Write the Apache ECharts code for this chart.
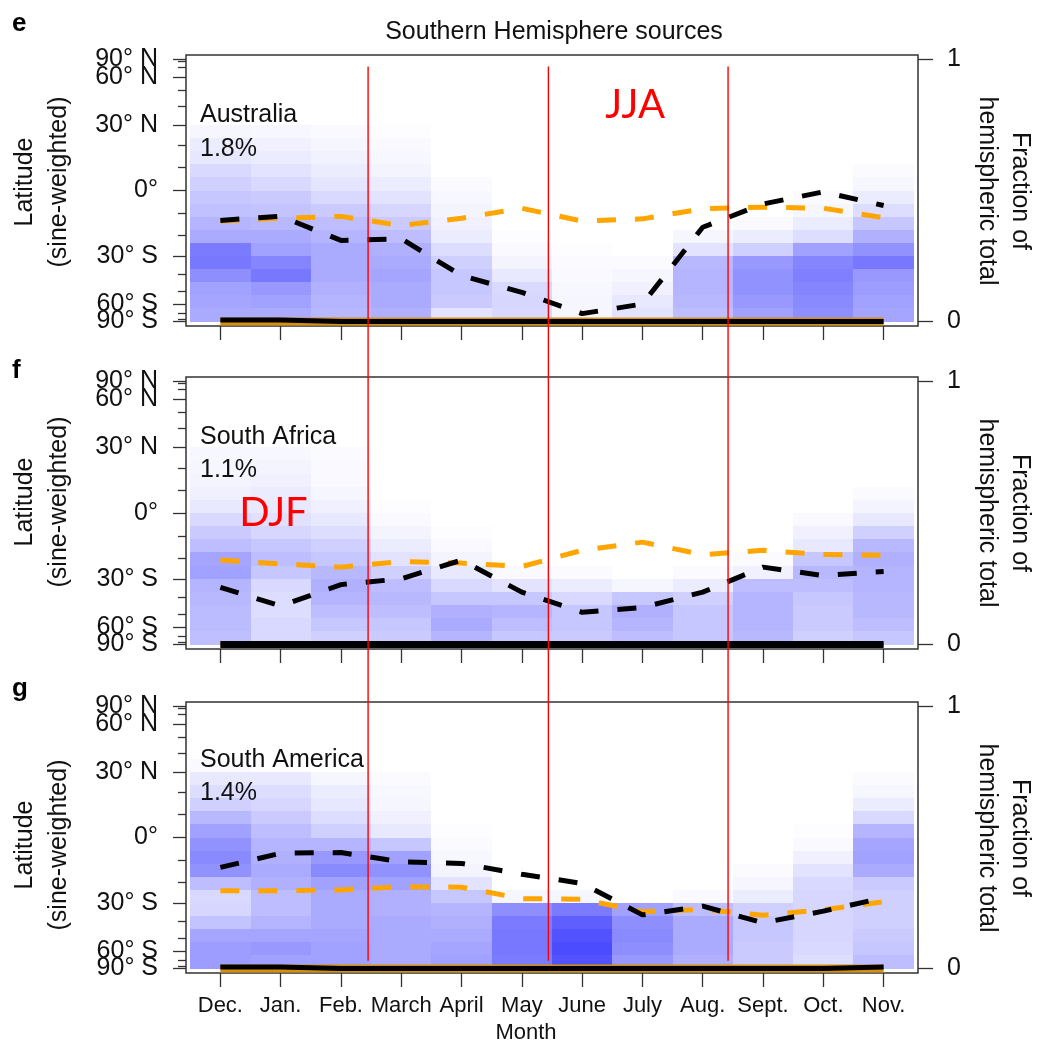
<!DOCTYPE html>
<html>
<head>
<meta charset="utf-8">
<script src="https://cdn.jsdelivr.net/npm/echarts@6/dist/echarts.min.js"></script>
<style>
  html, body { margin: 0; padding: 0; background: #ffffff; }
  #chart { width: 1038px; height: 1044px; }
</style>
</head>
<body>
<div id="chart"></div>
<script>
// ---- data -----------------------------------------------------------------
const months = ['Dec.', 'Jan.', 'Feb.', 'March', 'April', 'May', 'June', 'July', 'Aug.', 'Sept.', 'Oct.', 'Nov.'];

// latitude ticks (degrees); the axis itself is sine-weighted
const latTickDeg = [-90, -80, -70, -60, -50, -40, -30, -20, -10, 0, 10, 20, 30, 40, 50, 60, 70, 80, 90];
const latLabelDeg = [-90, -60, -30, 0, 30, 60, 90];
const latPoleDeg = [-90, 90];
const fracTicks = [0, 1];

// density bins, edges in sin(latitude), listed from 90° N down to 90° S
const binEdges = [1, 0.9, 0.8, 0.7, 0.6, 0.5, 0.4, 0.3, 0.2, 0.1, 0, -0.1, -0.2, -0.3, -0.4, -0.5, -0.6, -0.7, -0.8, -0.9, -1];

const regionNames = ['Australia', 'South Africa', 'South America'];
const regionShares = ['1.8%', '1.1%', '1.4%'];
const panelLetters = ['e', 'f', 'g'];

// Australia
const ausMeanLat = [-13.2, -11.3, -22.4, -21.6, -40.5, -51, -70, -60, -16.3, -5.9, -0.6, -6.6];
const ausRefLat  = [-13.5, -12.2, -11.4, -15.5, -12.2, -7.8, -13.5, -12.5, -8, -7.3, -7.8, -12];
const ausFracMain = [0.006, 0.006, 0, 0, 0, 0, 0, 0, 0, 0, 0, 0];
const ausFracRef  = [0, 0, 0, 0, 0, 0, 0, 0, 0, 0, 0, 0];
const ausDensity = [
  [0,0,0,0,0,5,10,13,20,25,30,33,40,45,70,72,60,50,48,45],
  [0,0,0,0,0,4,8,10,15,20,28,32,38,45,50,65,72,55,50,45],
  [0,0,0,0,0,3,5,7,10,14,20,28,35,40,45,45,45,42,40,38],
  [0,0,0,0,0,1,3,4,6,10,15,22,28,35,42,45,48,45,45,42],
  [0,0,0,0,0,0,0,0,0,2,4,6,8,10,18,25,30,30,28,15],
  [0,0,0,0,0,0,0,0,0,0,0,0,0,1,3,6,12,20,22,20],
  [0,0,0,0,0,0,0,0,0,0,0,0,0,0,1,2,3,4,5,5],
  [0,0,0,0,0,0,0,0,0,0,0,0,0,0,0,2,5,8,12,15],
  [0,0,0,0,0,0,0,0,0,0,0,0,0,5,15,38,40,40,38,35],
  [0,0,0,0,0,0,0,0,0,0,0,0,3,10,25,55,58,58,55,50],
  [0,0,0,0,0,0,0,0,0,0,2,5,10,18,50,65,68,65,62,60],
  [0,0,0,0,0,0,0,0,2,5,10,18,30,42,58,72,55,52,50,48]
];

// South Africa
const safMeanLat = [-34.4, -45, -33, -30, -21, -37, -49, -45.9, -37, -24.3, -28.4, -26.4];
const safRefLat  = [-20.9, -22.8, -24.3, -21.6, -22.4, -24, -16.5, -12.8, -18.5, -16.5, -18.4, -18.8];
const safFracMain = [0, 0, 0, 0, 0, 0, 0, 0, 0, 0, 0, 0];
const safFracRef  = [0, 0, 0, 0, 0, 0, 0, 0, 0, 0, 0, 0];
const safDensity = [
  [0,0,0,0,0,4,5,6,8,12,20,28,35,48,50,40,38,36,36,34],
  [0,0,0,0,0,4,6,8,10,12,16,22,30,35,30,20,18,18,20,20],
  [0,0,0,0,0,2,3,3,5,8,12,18,25,30,38,42,40,35,30,25],
  [0,0,0,0,0,0,0,0,0,1,3,6,10,15,25,35,38,35,30,28],
  [0,0,0,0,0,0,0,0,0,0,0,1,3,6,12,20,30,42,45,40],
  [0,0,0,0,0,0,0,0,0,0,0,0,0,0,3,15,30,40,35,30],
  [0,0,0,0,0,0,0,0,0,0,0,0,0,0,2,10,20,30,30,28],
  [0,0,0,0,0,0,0,0,0,0,0,0,0,0,0,5,30,42,40,35],
  [0,0,0,0,0,0,0,0,0,0,0,0,0,0,2,10,25,30,30,30],
  [0,0,0,0,0,0,0,0,0,0,0,0,0,2,8,35,40,40,40,38],
  [0,0,0,0,0,0,0,0,0,0,3,8,12,30,38,35,30,28,28,25],
  [0,0,0,0,0,0,0,0,2,6,12,25,38,42,40,40,38,38,35,30]
];

// South America
const samMeanLat = [-13.2, -6.9, -6.6, -10.7, -11.4, -16.3, -20.5, -36.2, -31.6, -40.6, -34.2, -27.4];
const samRefLat  = [-24, -24, -23.6, -22, -22.3, -27.8, -28.1, -34.5, -33.2, -36.4, -33.5, -29.4];
const samFracMain = [0.006, 0.006, 0, 0, 0, 0, 0, 0, 0, 0, 0, 0.006];
const samFracRef  = [0, 0, 0, 0, 0, 0, 0, 0, 0, 0, 0, 0];
const samDensity = [
  [0,0,0,0,3,12,18,25,38,50,58,62,58,35,20,22,32,48,52,52],
  [0,0,0,0,0,12,18,22,28,35,40,42,45,42,35,35,40,48,55,50],
  [0,0,0,0,0,5,10,13,18,25,40,55,62,50,45,45,45,48,50,50],
  [0,0,0,0,0,2,4,5,8,12,30,50,58,50,42,42,45,45,45,45],
  [0,0,0,0,0,0,0,0,0,1,2,4,6,15,30,40,42,45,48,50],
  [0,0,0,0,0,0,0,0,0,0,0,0,0,0,5,60,70,72,72,70],
  [0,0,0,0,0,0,0,0,0,0,0,0,0,0,5,70,85,92,95,92],
  [0,0,0,0,0,0,0,0,0,0,0,0,0,0,0,50,60,62,60,55],
  [0,0,0,0,0,0,0,0,0,0,0,0,0,0,3,35,45,45,45,42],
  [0,0,0,0,0,0,0,0,0,0,0,0,2,5,10,25,30,30,28,28],
  [0,0,0,0,0,0,0,0,0,1,3,8,15,20,22,22,22,22,20,18],
  [0,0,0,0,0,2,5,10,20,40,48,50,45,28,25,25,25,28,30,35]
];

// season boundaries (in month-axis units) and their labels
const seasonBounds = [2.45, 5.44, 8.42];
const seasonLineLat = [71, -70];          // top (first panel) / bottom (last panel)
const seasonTags = [
  { text: 'JJA', panel: 0, month: 6.88, lat: 40.5 },
  { text: 'DJF', panel: 1, month: 0.88, lat: 0 }
];

// ---- layout ---------------------------------------------------------------
const FONT = '"Liberation Sans", Arial, Helvetica, sans-serif';
const panelLayout = [
  { top: 55,  height: 271, latTitleY: 182, fracTitleY: 191, mainWidth: 5, refWidth: 8 },
  { top: 377, height: 272, latTitleY: 502, fracTitleY: 513, mainWidth: 7, refWidth: 5 },
  { top: 702, height: 271, latTitleY: 845, fracTitleY: 838, mainWidth: 5, refWidth: 8 }
];
const GRID_LEFT = 186, GRID_RIGHT = 918;
const Y_EXT = 1.034, FRAC_EXT = 0.017;

const panels = [
  { meanLat: ausMeanLat, refLat: ausRefLat, fracMain: ausFracMain, fracRef: ausFracRef, density: ausDensity },
  { meanLat: safMeanLat, refLat: safRefLat, fracMain: safFracMain, fracRef: safFracRef, density: safDensity },
  { meanLat: samMeanLat, refLat: samRefLat, fracMain: samFracMain, fracRef: samFracRef, density: samDensity }
];

const toSin = d => Math.sin(d * Math.PI / 180);
const latFormatter = v => {
  const d = Math.round(Math.asin(Math.max(-1, Math.min(1, v))) * 180 / Math.PI);
  if (d === 0) return '0°';
  return d > 0 ? d + '° N' : (-d) + '° S';
};
const majorLat = latLabelDeg.map(toSin);
const innerLabelLat = latLabelDeg.filter(d => latPoleDeg.indexOf(d) < 0).map(toSin);
const poleLat = latPoleDeg.map(toSin);
const minorLat = latTickDeg.filter(d => latLabelDeg.indexOf(d) < 0).map(toSin);
const monthIdx = months.map((_, i) => i);

function renderCell(params, api) {
  const m = api.value(0), top = api.value(1), bot = api.value(2), v = api.value(3);
  const p0 = api.coord([m - 0.5, top]);
  const p1 = api.coord([m + 0.5, bot]);
  const x0 = Math.round(p0[0]), x1 = Math.round(p1[0]);
  const y0 = Math.round(p0[1]), y1 = Math.round(p1[1]);
  const c = Math.round(255 - v / 100 * 188);
  return {
    type: 'rect',
    shape: { x: x0, y: y0, width: x1 - x0, height: y1 - y0 },
    style: { fill: 'rgb(' + c + ',' + c + ',255)' }
  };
}

const tickStyle = { color: '#333', width: 1.3 };
const latLabelStyle = { fontFamily: FONT, fontSize: 25, color: '#111', margin: 28 };
const grids = [], xAxes = [], yAxes = [], series = [];
panels.forEach((p, k) => {
  const L = panelLayout[k];
  grids.push({
    left: GRID_LEFT, width: GRID_RIGHT - GRID_LEFT, top: L.top, height: L.height,
    show: true, borderColor: '#333', borderWidth: 1.5, backgroundColor: 'transparent',
    containLabel: false, outerBoundsMode: 'none'
  });
  xAxes.push({
    gridIndex: k, type: 'value', min: -0.57, max: 11.57, position: 'bottom',
    axisLine: { show: false, onZero: false }, splitLine: { show: false },
    axisTick: { show: true, customValues: monthIdx, length: 14, lineStyle: tickStyle },
    axisLabel: {
      show: k === 2, customValues: monthIdx, formatter: v => months[Math.round(v)],
      fontFamily: FONT, fontSize: 22, color: '#111', margin: 22
    }
  });
  // major latitude ticks, labelled 60° S ... 60° N
  yAxes.push(Object.assign({
    gridIndex: k, type: 'value', min: -Y_EXT, max: Y_EXT, position: 'left',
    axisLine: { show: false, onZero: false }, splitLine: { show: false },
    axisTick: { show: true, customValues: majorLat, length: 13, lineStyle: tickStyle }
  }, { axisLabel: Object.assign({ show: true, customValues: innerLabelLat, formatter: latFormatter, hideOverlap: false }, latLabelStyle) }));
  // minor latitude ticks, plus the pole labels
  yAxes.push({
    gridIndex: k, type: 'value', min: -Y_EXT, max: Y_EXT, position: 'left',
    axisLine: { show: false, onZero: false }, splitLine: { show: false },
    axisTick: { show: true, customValues: minorLat, length: 8, lineStyle: tickStyle },
    axisLabel: Object.assign({ show: true, customValues: poleLat, formatter: latFormatter, hideOverlap: false }, latLabelStyle)
  });
  // fraction of hemispheric total
  yAxes.push({
    gridIndex: k, type: 'value', min: -FRAC_EXT, max: 1 + FRAC_EXT, position: 'right',
    axisLine: { show: false, onZero: false }, splitLine: { show: false },
    axisTick: { show: true, customValues: fracTicks, length: 15, lineStyle: tickStyle },
    axisLabel: { show: true, customValues: fracTicks, formatter: v => String(Math.round(v)),
      fontFamily: FONT, fontSize: 25, color: '#111', margin: 29 }
  });

  const cells = [];
  p.density.forEach((row, m) => {
    row.forEach((v, b) => {
      if (v > 0) cells.push([m, binEdges[b], binEdges[b + 1], v]);
    });
  });
  series.push({
    type: 'custom', xAxisIndex: k, yAxisIndex: 3 * k, renderItem: renderCell,
    encode: { x: 0, y: [1, 2] }, data: cells, z: 1, silent: true
  });
  series.push({
    type: 'line', xAxisIndex: k, yAxisIndex: 3 * k, z: 3, symbol: 'none', silent: true,
    data: p.refLat.map((d, i) => [i, toSin(d)]),
    lineStyle: { color: '#FFA500', width: 5, type: [19, 19], cap: 'butt' }
  });
  series.push({
    type: 'line', xAxisIndex: k, yAxisIndex: 3 * k, z: 4, symbol: 'none', silent: true,
    data: p.meanLat.map((d, i) => [i, toSin(d)]),
    lineStyle: { color: '#000000', width: 5, type: [19, 19], cap: 'butt' }
  });
  series.push({
    type: 'line', xAxisIndex: k, yAxisIndex: 3 * k + 2, z: 5, symbol: 'none', silent: true,
    data: p.fracRef.map((f, i) => [i, f]),
    lineStyle: { color: '#D8900A', width: L.refWidth, cap: 'butt' }
  });
  series.push({
    type: 'line', xAxisIndex: k, yAxisIndex: 3 * k + 2, z: 6, symbol: 'none', silent: true,
    data: p.fracMain.map((f, i) => [i, f]),
    lineStyle: { color: '#000000', width: L.mainWidth, cap: 'butt' }
  });
});

// text furniture
const texts = [
  { type: 'text', x: 554, y: 32, style: { text: 'Southern Hemisphere sources', font: '25px ' + FONT, fill: '#111', align: 'center', verticalAlign: 'middle' } },
  { type: 'text', x: 526, y: 1033, style: { text: 'Month', font: '22px ' + FONT, fill: '#111', align: 'center', verticalAlign: 'middle' } }
];
const letterY = [24, 371, 689];
const nameY = [[115, 149], [437, 470], [760, 793]];
panelLayout.forEach((L, k) => {
  texts.push({ type: 'text', x: 12, y: letterY[k], style: { text: panelLetters[k], font: 'bold 26px ' + FONT, fill: '#000', align: 'left', verticalAlign: 'middle' } });
  texts.push({ type: 'text', x: 200, y: nameY[k][0], z: 10, style: { text: regionNames[k], font: '25px ' + FONT, fill: '#111', align: 'left', verticalAlign: 'middle' } });
  texts.push({ type: 'text', x: 200, y: nameY[k][1], z: 10, style: { text: regionShares[k], font: '25px ' + FONT, fill: '#111', align: 'left', verticalAlign: 'middle' } });
  texts.push({ type: 'text', x: 42, y: L.latTitleY, rotation: Math.PI / 2,
    style: { text: 'Latitude\n(sine-weighted)', font: '25px ' + FONT, fill: '#111', align: 'center', verticalAlign: 'middle', lineHeight: 34 } });
  texts.push({ type: 'text', x: 1003, y: L.fracTitleY, rotation: -Math.PI / 2,
    style: { text: 'Fraction of\nhemispheric total', font: '25px ' + FONT, fill: '#111', align: 'center', verticalAlign: 'middle', lineHeight: 33 } });
});

const chart = echarts.init(document.getElementById('chart'), null, { renderer: 'canvas' });
chart.setOption({
  animation: false,
  backgroundColor: '#ffffff',
  grid: grids,
  xAxis: xAxes,
  yAxis: yAxes,
  series: series,
  graphic: { elements: texts }
});

// season boundary lines run through all three panels
const overlays = [];
seasonBounds.forEach(b => {
  const pTop = chart.convertToPixel({ xAxisIndex: 0, yAxisIndex: 0 }, [b, toSin(seasonLineLat[0])]);
  const pBot = chart.convertToPixel({ xAxisIndex: 2, yAxisIndex: 6 }, [b, toSin(seasonLineLat[1])]);
  overlays.push({ type: 'line', z: 20, shape: { x1: pTop[0], y1: pTop[1], x2: pBot[0], y2: pBot[1] },
    style: { stroke: '#FF0000', lineWidth: 1.4 } });
});
seasonTags.forEach(t => {
  const p = chart.convertToPixel({ xAxisIndex: t.panel, yAxisIndex: 3 * t.panel }, [t.month, toSin(t.lat)]);
  overlays.push({ type: 'text', z: 20, x: p[0], y: p[1],
    style: { text: t.text, font: '40px Lato, "Open Sans", sans-serif', fill: '#FF0000', align: 'center', verticalAlign: 'middle' } });
});
chart.setOption({ graphic: { elements: texts.concat(overlays) } }, { replaceMerge: ['graphic'] });
</script>
</body>
</html>
